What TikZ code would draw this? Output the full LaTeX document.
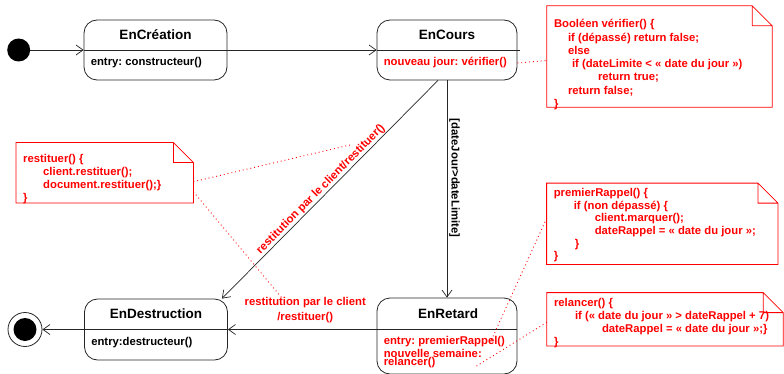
\documentclass[tikz,border=0pt]{standalone}
\usepackage{fontspec}
\setmainfont{Liberation Sans}
\usetikzlibrary{arrows.meta,positioning}
\frenchspacing

\begin{document}
\begin{tikzpicture}
            [x=1pt, y=1pt,
             state/.style = {draw=black!85, line width=0.8pt, rounded corners=13pt, inner sep=0pt, minimum width=140pt, minimum height=60pt},
             title/.style = {font=\bfseries\fontsize{13.5}{16}\selectfont},
             body/.style = {font=\bfseries\fontsize{11.3}{13}\selectfont, inner sep=0pt, anchor=west},
             trans/.style = {draw=black!85, line width=0.7pt, -{Straight Barb[length=7pt, width=10pt]}},
             guard/.style = {font=\bfseries\fontsize{11.3}{15}\selectfont, inner sep=1pt},
             notebox/.style = {inner sep=0pt},
             notetext/.style = {font=\bfseries\fontsize{11.3}{13}\selectfont, text=red, align=left, inner sep=0pt, anchor=north west},
             link/.style = {red, line width=0.9pt, dash pattern=on 0.9pt off 3pt}]
            \useasboundingbox (0,0) rectangle (784,373);
            % etats
            \node[circle, fill, minimum size=23pt, inner sep=0pt] (init) at (18.7,323) {};
            \node[state, minimum width=143pt] (creation) at (155.5,323) {};
            \node[title] (creationtitle) at ([yshift=15]creation.center) {EnCréation};
            \node[body] (creationentry) at ([xshift=7, yshift=-13]creation.west) {entry: constructeur()};
            \node[state] (cours) at (447,323) {};
            \node[title] (courstitle) at ([yshift=15]cours.center) {EnCours};
            \node[body, text=red] (coursentry) at ([xshift=7, yshift=-13]cours.west) {nouveau jour: vérifier()};
            \node[state, minimum width=143pt, minimum height=61pt] (destruction) at (156,43.5) {};
            \node[title] (destructiontitle) at ([yshift=16]destruction.center) {EnDestruction};
            \node[body] (destructionentry) at ([xshift=7, yshift=-13]destruction.west) {entry:destructeur()};
            \node[state, minimum height=76pt] (retard) at (447,37) {};
            \node[title] (retardtitle) at ([xshift=1, yshift=22]retard.center) {EnRetard};
            \node[body, text=red, align=left, anchor=north west] (retardentry) at ([xshift=7, yshift=-7]retard.west |- destruction) {entry: premierRappel()\\nouvelle semaine:\\[-5.5pt]relancer()};
            \node[circle, draw=black!85, line width=0.8pt, minimum size=34pt, inner sep=0pt] (final) at (25,43.5) {};
            \node[circle, fill, minimum size=23pt, inner sep=0pt] (finaldot) at (final) {};
            % separateurs
            \draw[black!85, line width=0.8pt] (creation.west) -- (creation.east);
            \draw[black!85, line width=0.8pt] (cours.west) -- ([xshift=3]cours.east);
            \draw[black!85, line width=0.8pt] (destruction.west) -- (destruction.east);
            \draw[black!85, line width=0.8pt] (retard.west |- destruction) -- (retard.east |- destruction);
            % transitions
            \draw[trans] (init) -- (creation);
            \draw[trans] (creation) -- (cours);
            \draw[trans] (cours) -- (retard)
                node[guard, pos=0.45, rotate=-90, anchor=south, inner sep=2pt] (depasse) {[dateJour>dateLimite]};
            \draw[trans] ([xshift=-9]cours.south) -- ([xshift=-6]destruction.north east)
                node[guard, pos=0.52, sloped, above, text=red] (restdiag) {restitution par le client/restituer()};
            \draw[trans] (retard.west |- destruction) -- (destruction)
                node[guard, pos=0.48, above=6pt, inner sep=0pt, align=center, text=red] (restbas) {restitution par le client\\/restituer()};
            \draw[trans] (destruction) -- (final);
            % notes
            \node[notebox, minimum width=225pt, minimum height=101pt] (verif) at (659.5,316.5) {};
            \node[notetext, font=\bfseries\fontsize{11.3}{13.3}\selectfont] (veriftext) at ([xshift=7, yshift=-13.5]verif.north west)
                {Booléen vérifier() \{\\
                 \hspace*{14pt}if (dépassé) return false;\\
                 \hspace*{14pt}else\\
                 \hspace*{18pt}if (dateLimite < « date du jour »)\\
                 \hspace*{44pt}return true;\\
                 \hspace*{14pt}return false;\\
                 \}};
            \node[notebox, minimum width=177pt, minimum height=60pt] (restit) at (104.7,200.3) {};
            \node[notetext] (restittext) at ([xshift=7, yshift=-12]restit.north west)
                {restituer() \{\\
                 \hspace*{20pt}client.restituer();\\
                 \hspace*{20pt}document.restituer();\}\\
                 \}};
            \node[notebox, minimum width=231pt, minimum height=81pt] (rappel) at (662.3,149.2) {};
            \node[notetext, font=\bfseries\fontsize{11.3}{12.7}\selectfont] (rappeltext) at ([xshift=7, yshift=-5]rappel.north west)
                {premierRappel() \{\\
                 \hspace*{20pt}if (non dépassé) \{\\
                 \hspace*{41pt}client.marquer();\\
                 \hspace*{41pt}dateRappel = « date du jour »;\\
                 \hspace*{21pt}\}\\
                 \}};
            \node[notebox, minimum width=236pt, minimum height=53pt] (relance) at (665,53.7) {};
            \node[notetext] (relancetext) at ([xshift=7, yshift=-6]relance.north west)
                {relancer() \{\\
                 \hspace*{21pt}if (« date du jour » > dateRappel + 7)\\
                 \hspace*{48pt}dateRappel = « date du jour »;\}\\
                 \}};
            \foreach \n in {verif,restit,rappel,relance}
                \draw[red, line width=0.8pt] (\n.north west) -- ([xshift=-20]\n.north east) -- ([yshift=-20]\n.north east)
                    -- (\n.south east) -- (\n.south west) -- cycle
                    ([xshift=-20]\n.north east) |- ([yshift=-20]\n.north east);
            % liens des notes
            \coordinate (restend1) at (350,228);
            \coordinate (restend2) at (282,75);
            \coordinate (rappelend) at (490,30);
            \coordinate (relanceend) at (475,6);
            \draw[link] (cours.east |- coursentry) -- ([yshift=-4]verif.west);
            \draw[link] ([yshift=-9]restit.east) -- (restend1);
            \draw[link] ([yshift=-19]restit.east) -- (restend2);
            \draw[link] ([yshift=5.5]rappel.west) -- (rappelend);
            \draw[link] ([yshift=-3]relance.west) -- (relanceend);
        \end{tikzpicture}
\end{document}
